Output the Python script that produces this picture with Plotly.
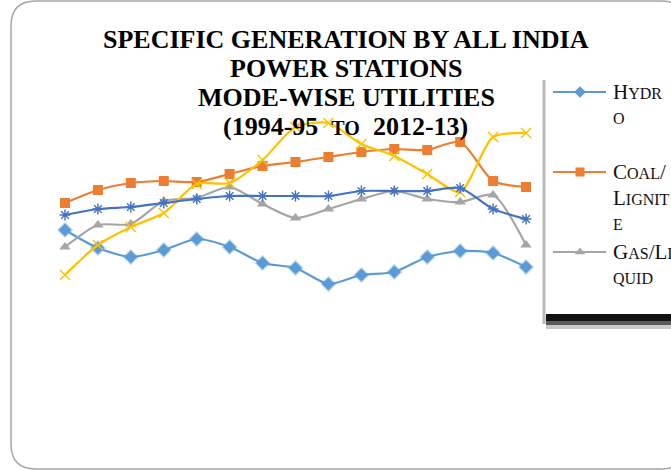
import plotly.graph_objects as go

# ---------------- data ----------------
periods = list(range(1, 16))
hydro = [170, 152, 143, 150, 161, 153, 137, 132, 116, 125, 128, 143, 149, 147, 133]
coal_lignite = [197, 210, 217, 219, 218, 226, 234, 238, 243, 248, 251, 250, 258, 219, 213]
gas_liquid = [153, 175, 176, 199, 202, 213, 196, 182, 191, 201, 209, 201, 198, 205, 155]
series4 = [125, 155, 173, 187, 216, 217, 240, 273, 277, 256, 244, 226, 208, 263, 267]
series5 = [185, 191, 193, 197, 201, 204, 204, 204, 204, 209, 209, 209, 212, 191, 181]

title_lines = ["SPECIFIC GENERATION BY ALL INDIA", "POWER STATIONS", "MODE-WISE UTILITIES"]
legend_names = ["Hydro", "Coal/Lignite", "Gas/Liquid"]

W, H = 671, 470
BLUE, ORANGE, GRAY, YELLOW, DBLUE = "#5B9BD5", "#ED7D31", "#A5A5A5", "#FFC000", "#4472C4"
SERIF = "Liberation Serif, Times New Roman, serif"

fig = go.Figure()

def add(y, color, symbol, size, name, open_=False, glow=None):
    marker = dict(symbol=symbol, size=size, color=color)
    if open_:
        marker["line"] = dict(color=color, width=1.4)
    if glow:
        marker["line"] = dict(color=glow, width=2.5)
    fig.add_trace(go.Scatter(
        x=periods, y=y, mode="lines+markers", name=name,
        line=dict(color=color, width=2.2, shape="spline", smoothing=0.7),
        marker=marker, showlegend=False, xaxis="x", yaxis="y"))

add(hydro, BLUE, "diamond", 10, legend_names[0], glow="rgba(91,155,213,0.35)")
add(coal_lignite, ORANGE, "square", 10, legend_names[1])
add(gas_liquid, GRAY, "triangle-up", 10, legend_names[2])
add(series4, YELLOW, "x-thin-open", 10, "Series 4", open_=True)
add(series5, DBLUE, "asterisk-open", 9, "Series 5", open_=True)

# ---------------- legend (drawn manually, pixel overlay axes) ----------------
leg_rows = [92, 172, 252]
leg_syms = [("diamond", BLUE, 9), ("square", ORANGE, 9), ("triangle-up", GRAY, 9)]
for yy, (sym, col, sz) in zip(leg_rows, leg_syms):
    fig.add_trace(go.Scatter(x=[553, 606], y=[yy, yy], mode="lines",
                             line=dict(color=col, width=2.2), showlegend=False,
                             hoverinfo="skip", xaxis="x2", yaxis="y2"))
    fig.add_trace(go.Scatter(x=[580], y=[yy], mode="markers",
                             marker=dict(symbol=sym, color=col, size=sz), showlegend=False,
                             hoverinfo="skip", xaxis="x2", yaxis="y2"))

def sc(big, small):
    return f"{big}<span style='font-size:16px'>{small}</span>"

leg_text = [
    (92, sc("H", "YDR")), (118, "<span style='font-size:16px'>O</span>"),
    (172, sc("C", "OAL") + "/"), (198, sc("L", "IGNIT")), (224, "<span style='font-size:16px'>E</span>"),
    (252, sc("G", "AS") + "/" + sc("L", "I")), (278, "<span style='font-size:16px'>QUID</span>"),
]
annotations = []
for yy, t in leg_text:
    annotations.append(dict(x=611, y=yy, xref="x2", yref="y2", text=t, showarrow=False,
                            xanchor="left", yanchor="middle",
                            font=dict(family=SERIF, size=21, color="#111111")))

# ---------------- title ----------------
title_y = [39, 68, 97]
for yy, t in zip(title_y, title_lines):
    annotations.append(dict(x=346, y=yy, xref="x2", yref="y2", text=f"<b>{t}</b>",
                            showarrow=False, xanchor="center", yanchor="middle",
                            font=dict(family=SERIF, size=26, color="#000000")))
nb = "\u00a0"
line4 = f"<b>(1994-95{nb}{nb}<span style='font-size:20px'>TO</span>{nb}{nb}2012-13)</b>"
annotations.append(dict(x=345, y=126, xref="x2", yref="y2", text=line4,
                        showarrow=False, xanchor="center", yanchor="middle",
                        font=dict(family=SERIF, size=26, color="#000000")))

# ---------------- shapes: frame + legend box shadow ----------------
r = 25
x0, y0, x1, y1 = 11, 1, 686, 469
frame = (f"M {x0},{y0+r} Q {x0},{y0} {x0+r},{y0} L {x1-r},{y0} Q {x1},{y0} {x1},{y0+r} "
         f"L {x1},{y1-r} Q {x1},{y1} {x1-r},{y1} L {x0+r},{y1} Q {x0},{y1} {x0},{y1-r} Z")
shapes = [
    dict(type="path", path=frame, xref="x2", yref="y2",
         line=dict(color="#A6A6A6", width=1.5), fillcolor="rgba(0,0,0,0)", layer="below"),
    dict(type="line", x0=544, x1=544, y0=80, y1=324, xref="x2", yref="y2",
         line=dict(color="#B8B8B8", width=3)),
    dict(type="rect", x0=546, x1=700, y0=314, y1=321, xref="x2", yref="y2",
         line=dict(width=0), fillcolor="#111111"),
    dict(type="rect", x0=546, x1=700, y0=321, y1=325, xref="x2", yref="y2",
         line=dict(width=0), fillcolor="#5A5A5A"),
    dict(type="rect", x0=546, x1=700, y0=325, y1=329, xref="x2", yref="y2",
         line=dict(width=0), fillcolor="#C8C8C8"),
]

hidden = dict(visible=False, showgrid=False, zeroline=False, fixedrange=True)
fig.update_layout(
    width=W, height=H, margin=dict(l=0, r=0, t=0, b=0),
    paper_bgcolor="white", plot_bgcolor="rgba(0,0,0,0)",
    xaxis=dict(domain=[48.5 / W, 542.5 / W], range=[0.5, 15.5], **hidden),
    yaxis=dict(domain=[1 - 300 / H, 1 - 100 / H], range=[100, 300], **hidden),
    xaxis2=dict(domain=[0, 1], range=[0, W], anchor="y2", **hidden),
    yaxis2=dict(domain=[0, 1], range=[H, 0], anchor="x2", **hidden),
    annotations=annotations, shapes=shapes, showlegend=False,
)

fig.write_html("out.html")
